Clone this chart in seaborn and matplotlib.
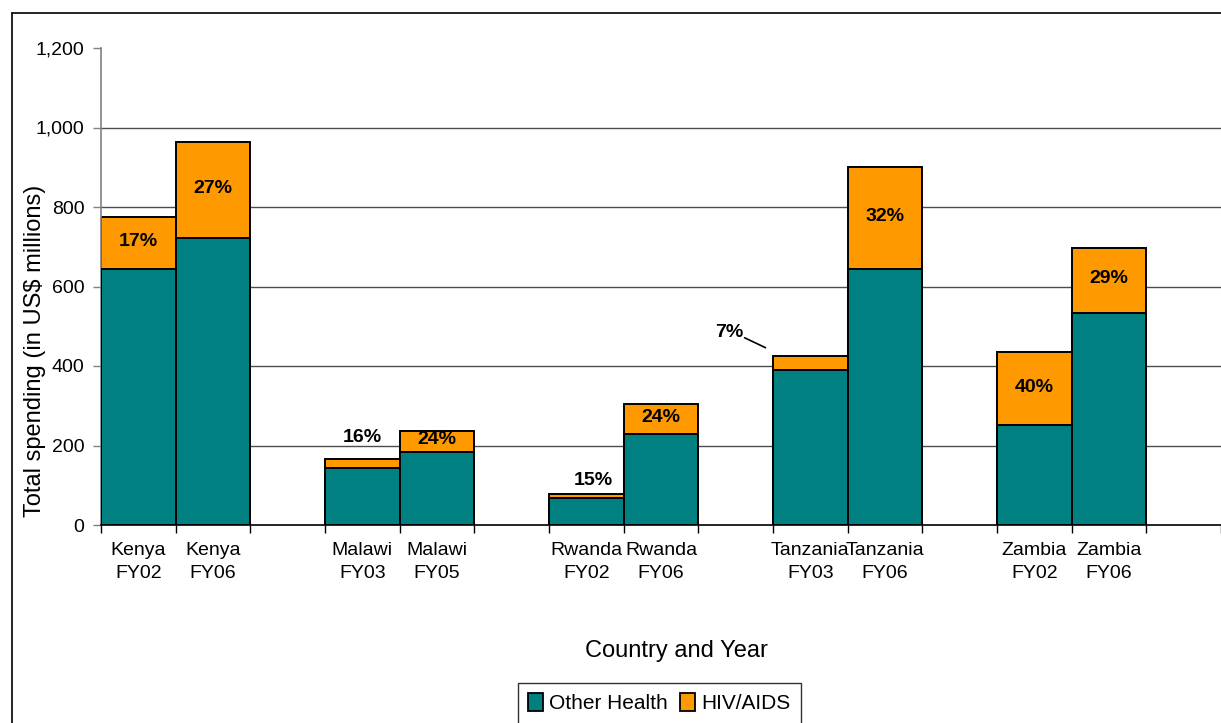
import matplotlib
matplotlib.use("Agg")
import matplotlib.pyplot as plt
from matplotlib.patches import Patch
from matplotlib.lines import Line2D
import seaborn as sns
import pandas as pd

# ---- data ----
countries = ["Kenya", "Kenya", "Malawi", "Malawi", "Rwanda", "Rwanda",
             "Tanzania", "Tanzania", "Zambia", "Zambia"]
years = ["FY02", "FY06", "FY03", "FY05", "FY02", "FY06",
         "FY03", "FY06", "FY02", "FY06"]
other_health = [643, 721, 144, 184, 68, 229, 391, 643, 252, 534]
total_spending = [776, 963, 166, 237, 78, 305, 426, 900, 434, 698]
pct_labels = ["17%", "27%", "16%", "24%", "15%", "24%", "7%", "32%", "40%", "29%"]
yticks = [0, 200, 400, 600, 800, 1000, 1200]
series_names = ["Other Health", "HIV/AIDS"]
colors = ["#008080", "#FF9900"]

# slot order: pairs separated by an empty slot
cats = [f"{c}\n{y}" for c, y in zip(countries, years)]
order = []
for i in range(0, len(cats), 2):
    order += [cats[i], cats[i + 1], f"gap{i}"]

df = pd.DataFrame({"cat": cats, "other": other_health, "total": total_spending})

sns.set_theme(style="white")
plt.rcParams["font.family"] = ["Liberation Sans", "DejaVu Sans"]
plt.rcParams["text.color"] = "black"
plt.rcParams["axes.labelcolor"] = "black"
plt.rcParams["xtick.color"] = "black"
plt.rcParams["ytick.color"] = "black"

W, H = 1221, 723
fig = plt.figure(figsize=(W / 100, H / 100), dpi=100)
ax = fig.add_axes([101 / W, 1 - 525 / H, 1120 / W, 477 / H])

# gridlines
for yv in yticks[1:-1]:
    ax.axhline(yv, color="#4d4d4d", lw=1.0, zorder=0)

sns.barplot(data=df, x="cat", y="total", order=order, color=colors[1],
            saturation=1, width=1.0, edgecolor="black", linewidth=1.4,
            errorbar=None, ax=ax, zorder=2)
sns.barplot(data=df, x="cat", y="other", order=order, color=colors[0],
            saturation=1, width=1.0, edgecolor="black", linewidth=1.4,
            errorbar=None, ax=ax, zorder=3)

ax.set_xlim(-0.5, len(order) - 0.5)
ax.set_ylim(yticks[0], yticks[-1])
ax.set_yticks(yticks)
ax.set_yticklabels([f"{v:,}" for v in yticks], fontsize=14, color="black")

ticklabels = [o if not o.startswith("gap") else "" for o in order]
ax.set_xticks(range(len(order)))
ax.set_xticklabels(ticklabels, fontsize=14, linespacing=1.45, color="black")
ax.set_xticks([i - 0.5 for i in range(len(order) + 1)], minor=True)
ax.tick_params(axis="x", which="major", length=0, pad=12)
ax.tick_params(axis="x", which="minor", length=6, width=1, color="black",
               direction="out", bottom=True)
ax.tick_params(axis="y", which="major", length=6, width=1, color="#808080",
               direction="out", left=True, pad=6)

for s in ["top", "right"]:
    ax.spines[s].set_visible(False)
ax.spines["left"].set_color("#808080")
ax.spines["left"].set_linewidth(1.2)
ax.spines["bottom"].set_color("black")
ax.spines["bottom"].set_linewidth(1.2)

ax.set_ylabel("Total spending (in US$ millions)", fontsize=17, va="center",
              color="black")
ax.yaxis.set_label_coords(-0.059, 0.365)
ax.set_xlabel("Country and Year", fontsize=17, va="center", color="black")
ax.xaxis.set_label_coords(0.514, -0.264)

# percentage labels (small segments get their label above the bar)
outside_offset = {"16%": (0.0, 53), "15%": (0.1, 33)}
pos = {c: order.index(c) for c in cats}
for i, c in enumerate(cats):
    x = pos[c]
    o, t = other_health[i], total_spending[i]
    lab = pct_labels[i]
    if t - o > 40:
        ax.text(x, (o + t) / 2 + 4, lab, ha="center", va="center",
                fontsize=14, fontweight="bold", color="black", zorder=5)
    elif lab == "7%":
        ax.text(x - 1.08, t + 58, lab, ha="center", va="center",
                fontsize=14, fontweight="bold", color="black", zorder=5)
        ax.plot([x - 0.88, x - 0.6], [t + 45, t + 20], color="black", lw=1.2,
                zorder=5)
    else:
        dx, dy = outside_offset.get(lab, (0.0, 40))
        ax.text(x + dx, t + dy, lab, ha="center", va="center",
                fontsize=14, fontweight="bold", color="black", zorder=5)

# legend
handles = [Patch(facecolor=colors[k], edgecolor="black", linewidth=1.3,
                 label=series_names[k]) for k in range(2)]
leg = fig.legend(handles=handles, loc="upper center", ncol=2,
                 bbox_to_anchor=(659 / W, 1 - 683 / H), fontsize=15,
                 frameon=True, fancybox=False, edgecolor="black",
                 handlelength=0.7, handleheight=0.9, handletextpad=0.3,
                 columnspacing=0.6, borderpad=0.5, borderaxespad=0)
leg.get_frame().set_linewidth(1.0)
for t in leg.get_texts():
    t.set_color("black")

# outer frame (left and top edges visible)
fig.add_artist(Line2D([12 / W, 12 / W], [0, 1 - 13 / H], color="black",
                      lw=1.2, transform=fig.transFigure))
fig.add_artist(Line2D([12 / W, 1], [1 - 13 / H, 1 - 13 / H], color="black",
                      lw=1.2, transform=fig.transFigure))

fig.savefig("out.png", dpi=100, facecolor="white")
